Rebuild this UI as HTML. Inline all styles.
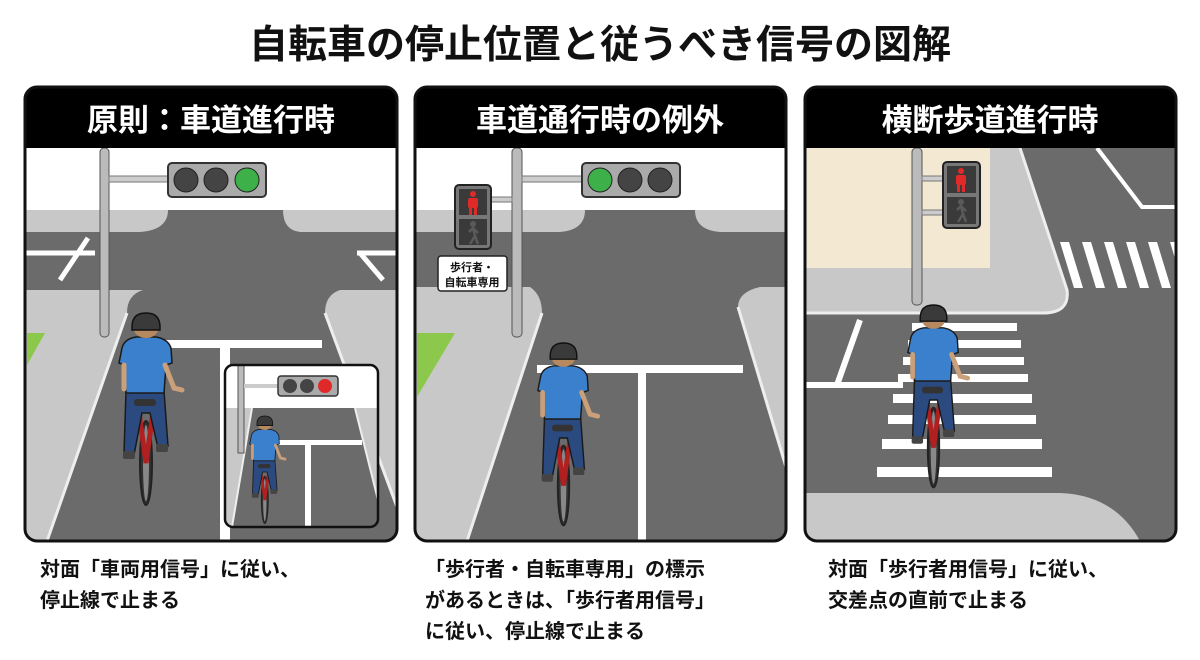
<!DOCTYPE html>
<html><head><meta charset="utf-8"><style>
body{margin:0;background:#fff;width:1200px;height:655px;overflow:hidden;font-family:"Liberation Sans","Noto Sans CJK JP",sans-serif}
.t{font-family:"Liberation Sans","Noto Sans CJK JP",sans-serif;font-weight:bold}
</style></head><body>
<svg width="1200" height="655" viewBox="0 0 1200 655" xmlns="http://www.w3.org/2000/svg">
<defs>
<clipPath id="c1"><rect x="25" y="87" width="372" height="454" rx="12"/></clipPath>
<clipPath id="c2"><rect x="415" y="87" width="371" height="454" rx="12"/></clipPath>
<clipPath id="c3"><rect x="805" y="87" width="371" height="454" rx="12"/></clipPath>
<clipPath id="ci"><rect x="225" y="365" width="153" height="162" rx="8"/></clipPath>
<g id="cyc">
 <ellipse cx="30" cy="150" rx="6" ry="42" fill="#333" stroke="#222" stroke-width="2"/>
 <ellipse cx="30" cy="150" rx="3" ry="38" fill="#888"/>
 <path d="M22 92 L30 150 L38 92" stroke="#b02020" stroke-width="5" fill="none"/>
 <path d="M10 78 L8 140 L18 142 L26 100 L34 100 L42 135 L52 133 L48 78 Z" fill="#2a4a80" stroke="#1a1a1a" stroke-width="1.5"/>
 <rect x="18" y="86" width="22" height="7" rx="3" fill="#333"/>
 <path d="M6 35 Q8 26 20 24 L40 24 Q52 26 55 35 L56 50 L50 52 L48 80 L10 80 L9 52 L3 50 Z" fill="#3a80cc" stroke="#1a1a1a" stroke-width="1.5"/>
 <path d="M49 52 L58 75 L66 77" stroke="#c9a07a" stroke-width="5" fill="none" stroke-linecap="round"/>
 <path d="M8 52 L8 76" stroke="#c9a07a" stroke-width="5" stroke-linecap="round"/>
 <rect x="7" y="138" width="12" height="8" rx="2" fill="#444"/>
 <rect x="40" y="131" width="12" height="8" rx="2" fill="#444"/>
 <ellipse cx="30" cy="16" rx="12" ry="9" fill="#b7895e"/>
 <path d="M16 14 Q16 0 30 0 Q44 0 44 14 L44 17 L16 17 Z" fill="#3a3a3a" stroke="#111" stroke-width="1.5"/>
</g>
<g id="pr"><circle cx="0" cy="-8" r="3" fill="#e02a2a"/><rect x="-5" y="-4" width="10" height="10" rx="2" fill="#e02a2a"/><rect x="-4" y="5" width="3" height="8" fill="#e02a2a"/><rect x="1" y="5" width="3" height="8" fill="#e02a2a"/></g>
<g id="pg"><circle cx="0" cy="-8" r="3" fill="#5a5a5a"/><path d="M0 -4 L2 4 L-3 12 M2 4 L5 12 M-4 0 L0 -4 L5 1" stroke="#5a5a5a" stroke-width="2.5" fill="none"/></g>
</defs>

<text x="600" y="58" text-anchor="middle" class="t" font-size="39" fill="#111">自転車の停止位置と従うべき信号の図解</text>

<!-- Panel 1 -->
<g clip-path="url(#c1)">
 <rect x="25" y="87" width="372" height="454" fill="#fff"/>
 <rect x="25" y="210" width="372" height="331" fill="#c8c8c8"/>
 <rect x="25" y="232" width="372" height="58" fill="#6b6b6b"/>
 <path d="M168 210 Q168 230 140 232 L300 232 Q283 230 283 210 Z" fill="#6b6b6b"/>
 <path d="M143 290 Q127 295 127 313 L47 541 L397 541 L397 507 L325 313 Q325 295 340 290 Z" fill="#6b6b6b"/>
 <path d="M127 313 L47 541" stroke="#eee" stroke-width="3"/>
 <path d="M325 313 L397 507" stroke="#eee" stroke-width="3"/>
 <path d="M25 253 L95 253 M88 238 L60 280" stroke="#fff" stroke-width="5"/>
 <path d="M357 253 L397 253 M360 253 L383 280" stroke="#fff" stroke-width="5"/>
 <polygon points="27,333 45,333 27,365" fill="#8cc84b"/>
 <rect x="100" y="148" width="9" height="189" rx="4" fill="#bbb" stroke="#555"/>
 <rect x="109" y="176" width="60" height="6" fill="#ccc" stroke="#777"/>
 <rect x="168" y="163" width="98" height="34" rx="4" fill="#aaa" stroke="#333" stroke-width="2"/>
 <circle cx="186" cy="180" r="12" fill="#444" stroke="#222"/>
 <circle cx="216" cy="180" r="12" fill="#444" stroke="#222"/>
 <circle cx="247" cy="180" r="12" fill="#3db04a" stroke="#222"/>
 <rect x="128" y="340" width="194" height="8" fill="#fff"/>
 <rect x="220" y="345" width="10" height="196" fill="#fff"/>
 <use href="#cyc" transform="translate(116,313)"/>
 <g clip-path="url(#ci)">
  <rect x="225" y="365" width="153" height="162" fill="#fff"/>
  <rect x="225" y="408" width="153" height="119" fill="#c8c8c8"/>
  <path d="M252 408 L232 527 L378 527 L378 500 L355 408 Z" fill="#6b6b6b"/>
  <path d="M252 408 L232 527 M355 408 L378 500" stroke="#eee" stroke-width="2"/>
  <rect x="272" y="440" width="90" height="5" fill="#fff"/>
  <rect x="305" y="443" width="6" height="84" fill="#fff"/>
  <rect x="238" y="365" width="6" height="88" fill="#bbb" stroke="#555"/>
  <rect x="244" y="384" width="35" height="4" fill="#ccc"/>
  <rect x="278" y="376" width="60" height="20" rx="3" fill="#aaa" stroke="#333" stroke-width="1.5"/>
  <circle cx="290" cy="386" r="7" fill="#444"/><circle cx="307" cy="386" r="7" fill="#444"/><circle cx="325" cy="386" r="7" fill="#e02a2a"/>
  <use href="#cyc" transform="translate(248,416) scale(0.56)"/>
 </g>
 <rect x="225" y="365" width="153" height="162" rx="8" fill="none" stroke="#111" stroke-width="2.5"/>
 <rect x="25" y="87" width="372" height="61" fill="#000"/>
</g>
<rect x="25" y="87" width="372" height="454" rx="12" fill="none" stroke="#111" stroke-width="3"/>
<text x="211" y="131" text-anchor="middle" class="t" font-size="31" fill="#fff">原則：車道進行時</text>

<!-- Panel 2 -->
<g clip-path="url(#c2)">
 <rect x="415" y="87" width="371" height="454" fill="#fff"/>
 <rect x="415" y="210" width="371" height="331" fill="#c8c8c8"/>
 <rect x="415" y="232" width="371" height="55" fill="#6b6b6b"/>
 <path d="M585 210 Q585 230 560 232 L720 232 Q695 230 695 210 Z" fill="#6b6b6b"/>
 <path d="M530 287 Q542 295 542 313 L467 541 L786 541 L786 467 L738 307 Q738 292 760 287 Z" fill="#6b6b6b"/>
 <path d="M542 313 L467 541 M738 307 L786 467" stroke="#eee" stroke-width="3"/>
 <polygon points="417,333 455,333 417,397" fill="#8cc84b"/>
 <rect x="512" y="148" width="10" height="189" rx="4" fill="#bbb" stroke="#555"/>
 <rect x="522" y="176" width="60" height="6" fill="#ccc" stroke="#777"/>
 <rect x="491" y="197" width="21" height="5" fill="#ccc" stroke="#777"/>
 <rect x="582" y="163" width="98" height="34" rx="4" fill="#aaa" stroke="#333" stroke-width="2"/>
 <circle cx="600" cy="180" r="12" fill="#3db04a" stroke="#222"/>
 <circle cx="630" cy="180" r="12" fill="#444" stroke="#222"/>
 <circle cx="660" cy="180" r="12" fill="#444" stroke="#222"/>
 <rect x="455" y="185" width="36" height="64" rx="4" fill="#777" stroke="#222" stroke-width="2"/>
 <rect x="459" y="189" width="28" height="26" fill="#3a3a3a"/>
 <rect x="459" y="219" width="28" height="26" fill="#3a3a3a"/>
 <use href="#pr" transform="translate(473,202)"/>
 <use href="#pg" transform="translate(473,232)"/>
 <rect x="438" y="256" width="69" height="35" rx="3" fill="#fff" stroke="#222" stroke-width="1.5"/>
 <text x="472" y="271" text-anchor="middle" class="t" font-size="11" fill="#111">歩行者・</text>
 <text x="472" y="286" text-anchor="middle" class="t" font-size="11" fill="#111">自転車専用</text>
 <rect x="537" y="365" width="206" height="8" fill="#fff"/>
 <rect x="638" y="370" width="8" height="171" fill="#fff"/>
 <use href="#cyc" transform="translate(535,343) scale(0.95)"/>
 <rect x="415" y="87" width="371" height="61" fill="#000"/>
</g>
<rect x="415" y="87" width="371" height="454" rx="12" fill="none" stroke="#111" stroke-width="3"/>
<text x="600" y="131" text-anchor="middle" class="t" font-size="31" fill="#fff">車道通行時の例外</text>

<!-- Panel 3 -->
<g clip-path="url(#c3)">
 <rect x="805" y="87" width="371" height="454" fill="#6b6b6b"/>
 <path d="M805 148 L1020 148 L1067 290 Q1070 313 1043 313 L805 313 Z" fill="#c8c8c8"/>
 <path d="M1020 148 L1067 290 Q1070 313 1043 313 L805 313" stroke="#eee" stroke-width="3" fill="none"/>
 <rect x="805" y="148" width="185" height="120" fill="#f3e9d2"/>
 <path d="M1097 148 L1142 207 L1176 207" stroke="#fff" stroke-width="4" fill="none"/>
 <g fill="#fff">
  <polygon points="1060,242 1069,242 1083,288 1074,288"/>
  <polygon points="1082,242 1091,242 1105,288 1096,288"/>
  <polygon points="1104,242 1113,242 1127,288 1118,288"/>
  <polygon points="1126,242 1135,242 1149,288 1140,288"/>
  <polygon points="1148,242 1157,242 1171,288 1162,288"/>
  <polygon points="1170,242 1179,242 1190,288 1184,288"/>
 </g>
 <path d="M860 320 L837 385 M805 385 L903 385" stroke="#fff" stroke-width="6" fill="none"/>
 <g fill="#fff">
  <rect x="912" y="323" width="105" height="8"/>
  <rect x="908" y="340" width="113" height="8"/>
  <rect x="903" y="357" width="121" height="8"/>
  <rect x="898" y="374" width="130" height="8"/>
  <rect x="893" y="394" width="139" height="9"/>
  <rect x="888" y="415" width="148" height="9"/>
  <rect x="882" y="439" width="160" height="10"/>
  <rect x="877" y="467" width="175" height="10"/>
 </g>
 <path d="M805 493 L1060 493 Q1115 495 1140 541 L805 541 Z" fill="#c8c8c8"/>
 <rect x="912" y="148" width="10" height="157" rx="4" fill="#bbb" stroke="#555"/>
 <rect x="922" y="176" width="21" height="5" fill="#ccc" stroke="#777"/>
 <rect x="922" y="210" width="21" height="5" fill="#ccc" stroke="#777"/>
 <rect x="943" y="162" width="37" height="66" rx="4" fill="#777" stroke="#222" stroke-width="2"/>
 <rect x="947" y="166" width="29" height="27" fill="#3a3a3a"/>
 <rect x="947" y="197" width="29" height="27" fill="#3a3a3a"/>
 <use href="#pr" transform="translate(961,179)"/>
 <use href="#pg" transform="translate(961,210)"/>
 <use href="#cyc" transform="translate(905,305) scale(0.95)"/>
 <rect x="805" y="87" width="371" height="61" fill="#000"/>
</g>
<rect x="805" y="87" width="371" height="454" rx="12" fill="none" stroke="#111" stroke-width="3"/>
<text x="990" y="131" text-anchor="middle" class="t" font-size="31" fill="#fff">横断歩道進行時</text>

<g class="t" font-size="20" fill="#111">
 <text x="40" y="576">対面「車両用信号」に従い、</text>
 <text x="40" y="607">停止線で止まる</text>
 <text x="425" y="576">「歩行者・自転車専用」の標示</text>
 <text x="425" y="607">があるときは、「歩行者用信号」</text>
 <text x="425" y="638">に従い、停止線で止まる</text>
 <text x="828" y="576">対面「歩行者用信号」に従い、</text>
 <text x="828" y="607">交差点の直前で止まる</text>
</g>
</svg>
</body></html>
